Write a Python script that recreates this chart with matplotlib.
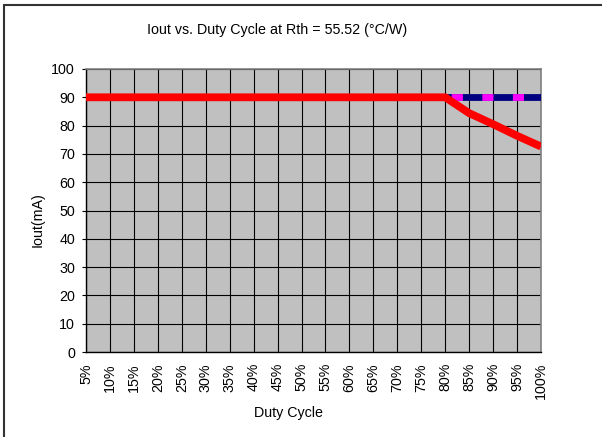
import matplotlib
matplotlib.use("Agg")
import matplotlib.pyplot as plt
from matplotlib.patches import Rectangle

categories = ["5%", "10%", "15%", "20%", "25%", "30%", "35%", "40%", "45%", "50%",
              "55%", "60%", "65%", "70%", "75%", "80%", "85%", "90%", "95%", "100%"]
iout = [90, 90, 90, 90, 90, 90, 90, 90, 90, 90,
        90, 90, 90, 90, 90, 90, 84.4, 80.5, 76.4, 72.6]
limit_blue = [90] * 20
limit_magenta = [90] * 20
yticks = [0, 10, 20, 30, 40, 50, 60, 70, 80, 90, 100]

plt.rcParams['font.family'] = ['Liberation Sans', 'DejaVu Sans']
FS = 10.3

W, H = 602, 437
fig = plt.figure(figsize=(W / 100, H / 100), dpi=100)
fig.patch.set_facecolor('white')

# outer chart border (cropped at right/bottom)
fig.patches.append(Rectangle((3.5 / W, -0.05), 1.2, 1 - 4.5 / H + 0.05,
                             transform=fig.transFigure, fill=False,
                             edgecolor='#333333', linewidth=1.5))

L, R, T, B = 86, 541, 69, 352
ax = fig.add_axes([L / W, 1 - B / H, (R - L) / W, (B - T) / H])
ax.set_facecolor('#C0C0C0')

x = list(range(len(categories)))
lwb = 4.9
ax.plot(x, limit_blue, color='#000080', linewidth=lwb, solid_capstyle='butt', zorder=3)
ax.plot(x, limit_magenta, color='#FF00FF', linewidth=lwb, dash_capstyle='butt',
        linestyle=(23 / lwb, (8 / lwb, 14 / lwb)), zorder=4)
ax.plot(x, iout, color='#FF0000', linewidth=5.6, solid_capstyle='butt',
        solid_joinstyle='miter', zorder=5)

ax.set_xlim(0, len(categories) - 1)
ax.set_ylim(0, 100)
ax.set_xticks(x)
ax.set_xticklabels(categories, rotation=90, fontsize=FS)
ax.set_yticks(yticks)
ax.set_yticklabels([str(v) for v in yticks], fontsize=FS)
ax.tick_params(axis='x', length=0, pad=8)
ax.tick_params(axis='y', length=3, width=0.8, pad=5, direction='out')

ax.grid(True, color='black', linewidth=0.8)
ax.set_axisbelow(True)
for s in ['top', 'right']:
    ax.spines[s].set_color('#808080')
    ax.spines[s].set_linewidth(1.2)
for s in ['left', 'bottom']:
    ax.spines[s].set_color('black')
    ax.spines[s].set_linewidth(1.0)

fig.text(277 / W, 1 - 30 / H, "Iout vs. Duty Cycle at Rth = 55.52 (°C/W)",
         ha='center', va='center', fontsize=FS)
fig.text(38 / W, 1 - 220 / H, "Iout(mA)", rotation=90, ha='center', va='center',
         fontsize=FS)
fig.text(289 / W, 1 - 413 / H, "Duty Cycle", ha='center', va='center', fontsize=FS)

fig.savefig("out.png", dpi=100)
